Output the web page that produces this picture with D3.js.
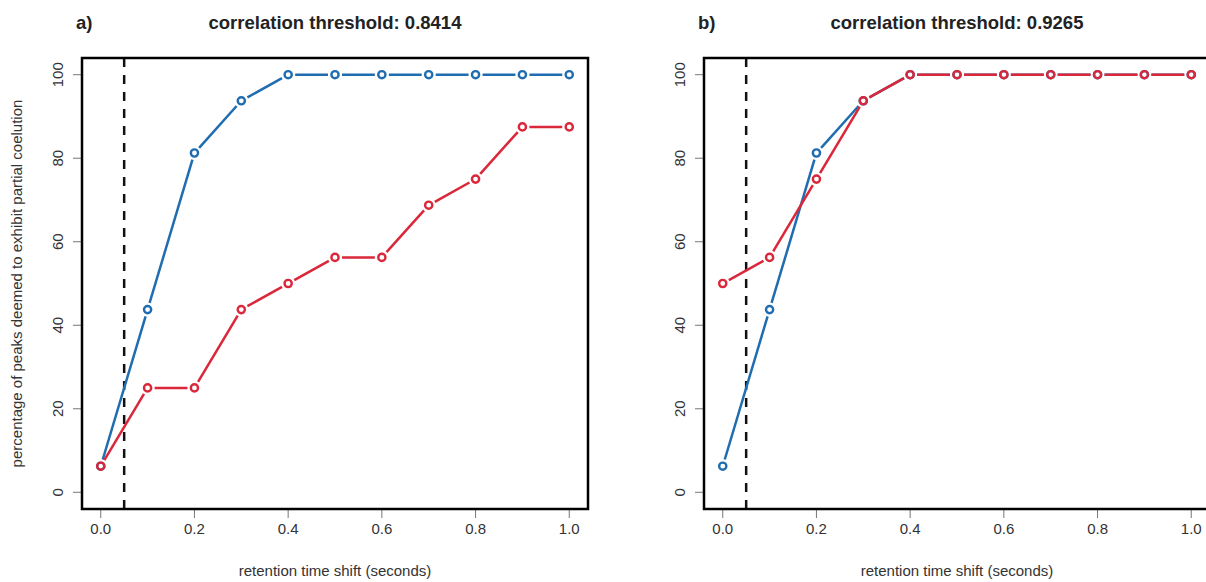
<!DOCTYPE html>
<html>
<head>
<meta charset="utf-8">
<script src="https://cdn.jsdelivr.net/npm/d3@7"></script>
<style>
  body { margin: 0; background: #fff; }
  svg { font-family: "Liberation Sans", Arial, sans-serif; }
</style>
</head>
<body>
<div id="chart"></div>
<script>
// shift values (seconds)
const shifts = [0.0, 0.1, 0.2, 0.3, 0.4, 0.5, 0.6, 0.7, 0.8, 0.9, 1.0];

// panel a
const blueA = [6.25, 43.75, 81.25, 93.75, 100, 100, 100, 100, 100, 100, 100];
const redA  = [6.25, 25, 25, 43.75, 50, 56.25, 56.25, 68.75, 75, 87.5, 87.5];
// panel b
const blueB = [6.25, 43.75, 81.25, 93.75, 100, 100, 100, 100, 100, 100, 100];
const redB  = [50, 56.25, 75, 93.75, 100, 100, 100, 100, 100, 100, 100];

const panelLabels = ["a)", "b)"];
const panelTitles = ["correlation threshold: 0.8414", "correlation threshold: 0.9265"];
const xTicks = [0, 0.2, 0.4, 0.6, 0.8, 1.0];
const yTicks = [0, 20, 40, 60, 80, 100];
const cutoff = 0.05;

const blue = "#1f6db0", red = "#da2739";

const width = 1206, height = 582;
const svg = d3.select("#chart").append("svg")
    .attr("width", width)
    .attr("height", height);

const panels = [
    { left: 82, blue: blueA, red: redA, ylab: true },
    { left: 704, blue: blueB, red: redB, ylab: false }
];
const boxW = 506, boxTop = 58, boxBottom = 509;

panels.forEach((p, i) => {
    // R style: 4% padding around data range
    const x = d3.scaleLinear().domain([-0.04, 1.04]).range([p.left, p.left + boxW]);
    const y = d3.scaleLinear().domain([-4, 104]).range([boxBottom, boxTop]);
    const g = svg.append("g");

    // y axis ticks
    g.selectAll(".ytick").data(yTicks).enter().append("line")
        .attr("x1", p.left - 9).attr("x2", p.left)
        .attr("y1", d => y(d)).attr("y2", d => y(d))
        .attr("stroke", "#777").attr("stroke-width", 1);
    g.selectAll(".ylab").data(yTicks).enter().append("text")
        .attr("transform", d => `translate(${p.left - 19},${y(d)}) rotate(-90)`)
        .attr("text-anchor", "middle")
        .attr("font-size", 15)
        .attr("fill", "#333")
        .text(d => d);

    // x axis ticks
    g.selectAll(".xtick").data(xTicks).enter().append("line")
        .attr("x1", d => x(d)).attr("x2", d => x(d))
        .attr("y1", boxBottom).attr("y2", boxBottom + 9)
        .attr("stroke", "#777").attr("stroke-width", 1);
    g.selectAll(".xlab").data(xTicks).enter().append("text")
        .attr("x", d => x(d)).attr("y", boxBottom + 25)
        .attr("text-anchor", "middle")
        .attr("font-size", 15)
        .attr("fill", "#333")
        .text(d => d.toFixed(1));

    // dashed cutoff line
    g.append("line")
        .attr("x1", x(cutoff)).attr("x2", x(cutoff))
        .attr("y1", boxTop).attr("y2", boxBottom)
        .attr("stroke", "#111").attr("stroke-width", 2.5)
        .attr("stroke-dasharray", "9,8");

    // series drawn R "type=b" style: segments with gaps around points
    const drawSeries = (vals, color) => {
        const pts = shifts.map((s, k) => [x(s), y(vals[k])]);
        const gap = 7;
        const segs = [];
        for (let k = 0; k < pts.length - 1; k++) {
            const [x0, y0] = pts[k], [x1, y1] = pts[k + 1];
            const len = Math.hypot(x1 - x0, y1 - y0);
            if (len <= 2 * gap) continue;
            const ux = (x1 - x0) / len, uy = (y1 - y0) / len;
            segs.push([x0 + ux * gap, y0 + uy * gap, x1 - ux * gap, y1 - uy * gap]);
        }
        g.append("g").selectAll("line").data(segs).enter().append("line")
            .attr("x1", d => d[0]).attr("y1", d => d[1])
            .attr("x2", d => d[2]).attr("y2", d => d[3])
            .attr("stroke", color).attr("stroke-width", 2.5);
        g.append("g").selectAll("circle").data(pts).enter().append("circle")
            .attr("cx", d => d[0]).attr("cy", d => d[1])
            .attr("r", 3.6)
            .attr("fill", "none")
            .attr("stroke", color).attr("stroke-width", 2.4);
    };
    drawSeries(p.blue, blue);
    drawSeries(p.red, red);

    // plot box
    g.append("rect")
        .attr("x", p.left).attr("y", boxTop)
        .attr("width", boxW).attr("height", boxBottom - boxTop)
        .attr("fill", "none").attr("stroke", "#000").attr("stroke-width", 2.5);

    // titles
    g.append("text")
        .attr("x", p.left + boxW / 2).attr("y", 29)
        .attr("text-anchor", "middle")
        .attr("font-size", 18.5).attr("font-weight", "bold")
        .attr("fill", "#222")
        .text(panelTitles[i]);
    g.append("text")
        .attr("x", p.left - 6).attr("y", 29)
        .attr("font-size", 18.5).attr("font-weight", "bold")
        .attr("fill", "#222")
        .text(panelLabels[i]);

    g.append("text")
        .attr("x", p.left + boxW / 2).attr("y", 576)
        .attr("text-anchor", "middle")
        .attr("font-size", 15)
        .attr("fill", "#333")
        .text("retention time shift (seconds)");

    if (p.ylab) {
        g.append("text")
            .attr("transform", `translate(22,${(boxTop + boxBottom) / 2}) rotate(-90)`)
            .attr("text-anchor", "middle")
            .attr("font-size", 15)
            .attr("fill", "#333")
            .text("percentage of peaks deemed to exhibit partial coelution");
    }
});
</script>
</body>
</html>
